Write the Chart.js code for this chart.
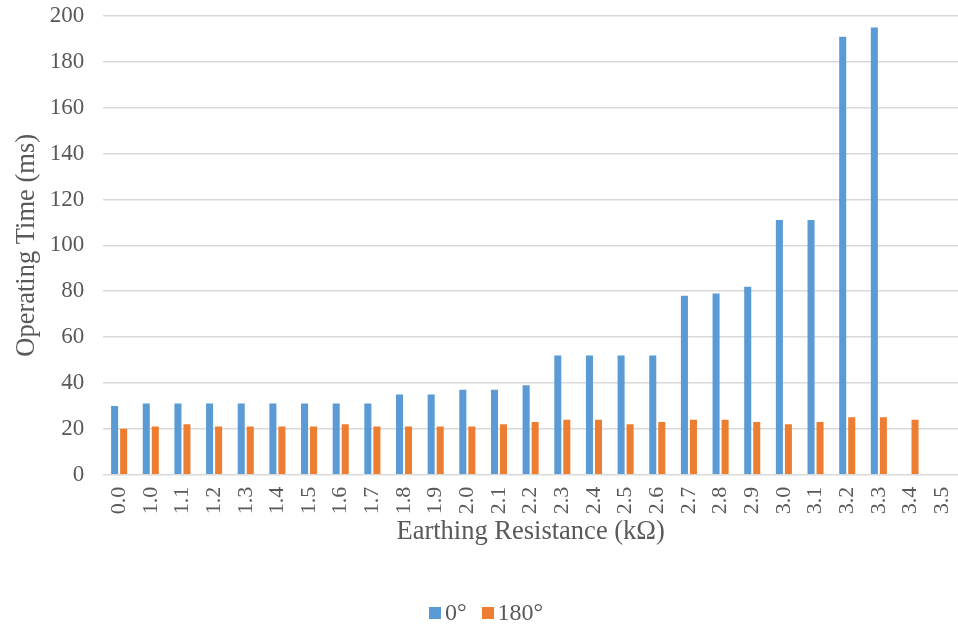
<!DOCTYPE html>
<html>
<head>
<meta charset="utf-8">
<script src="https://cdn.jsdelivr.net/npm/chart.js@4/dist/chart.umd.min.js"></script>
<style>
  html, body { margin: 0; padding: 0; background: #ffffff; }
  #wrap { width: 958px; height: 624px; position: relative; overflow: hidden; }
  #legend {
    position: absolute; left: 429px; top: 600px; height: 24px;
    display: flex; align-items: center;
    font-family: 'Liberation Serif', 'Times New Roman', serif;
    font-size: 24px; line-height: 24px; color: #595959;
  }
  #legend .item { display: flex; align-items: center; margin-right: 15px; }
  #legend .box { width: 12px; height: 12px; margin-right: 4px; margin-top: 1px; }
</style>
</head>
<body>
<div id="wrap"><canvas id="c" width="958" height="624"></canvas><div id="legend"></div></div>
<script>
// Earthing resistance steps (kΩ)
const resistance = ['0.0','1.0','1.1','1.2','1.3','1.4','1.5','1.6','1.7','1.8','1.9','2.0','2.1','2.2','2.3','2.4','2.5','2.6','2.7','2.8','2.9','3.0','3.1','3.2','3.3','3.4','3.5'];
// Operating time (ms) at 0° fault inception
const time0 = [30,31,31,31,31,31,31,31,31,35,35,37,37,39,52,52,52,52,78,79,82,111,111,191,195,null,null];
// Operating time (ms) at 180° fault inception
const time180 = [20,21,22,21,21,21,21,22,21,21,21,21,22,23,24,24,22,23,24,24,23,22,23,25,25,24,null];
// Y-axis range
const yMin = 0, yMax = 200, yStep = 20;

const serif = "'Liberation Serif', 'Times New Roman', serif";
const grey = '#595959';

const chart = new Chart(document.getElementById('c'), {
  type: 'bar',
  data: {
    labels: resistance,
    datasets: [
      { label: '0°', data: time0, backgroundColor: '#5b9bd5' },
      { label: '180°', data: time180, backgroundColor: '#ed7d31' }
    ]
  },
  options: {
    responsive: false,
    animation: false,
    layout: { padding: { top: 16, right: 0, left: 11, bottom: 0 } },
    datasets: { bar: { categoryPercentage: 0.57, barPercentage: 0.78 } },
    scales: {
      x: {
        grid: { display: false, drawTicks: false },
        border: { display: false },
        ticks: {
          color: grey, minRotation: 90, maxRotation: 90, autoSkip: false,
          font: { family: serif, size: 22 }, padding: 12
        },
        title: {
          display: true, text: 'Earthing Resistance (kΩ)', color: grey,
          font: { family: serif, size: 26.5 }, padding: { top: -10, bottom: 76 }
        },
        // let the plot run to the right edge of the canvas
        afterFit: (s) => { s.paddingLeft = 0; s.paddingRight = 0; }
      },
      y: {
        min: yMin, max: yMax,
        grid: { color: '#d9d9d9', lineWidth: 1.5, drawTicks: false },
        border: { display: false },
        ticks: {
          stepSize: yStep, color: grey, padding: 19,
          font: { family: serif, size: 23 }
        },
        title: {
          display: true, text: 'Operating Time (ms)', color: grey,
          font: { family: serif, size: 26.5 }, padding: { top: 0, bottom: 2 }
        },
        afterFit: (s) => { s.paddingTop = 0; s.paddingBottom = 0; s.width -= 14; }
      }
    },
    plugins: {
      legend: { display: false },
      tooltip: { enabled: false }
    }
  }
});

// legend built from the chart's datasets
const legendEl = document.getElementById('legend');
chart.data.datasets.forEach(ds => {
  const item = document.createElement('span');
  item.className = 'item';
  const box = document.createElement('span');
  box.className = 'box';
  box.style.background = ds.backgroundColor;
  const txt = document.createElement('span');
  txt.textContent = ds.label;
  item.appendChild(box);
  item.appendChild(txt);
  legendEl.appendChild(item);
});
</script>
</body>
</html>
